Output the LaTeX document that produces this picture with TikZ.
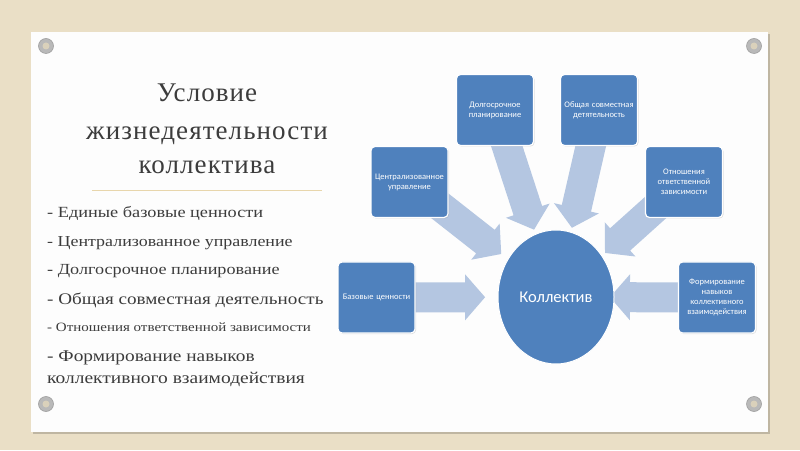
\documentclass[tikz,border=0pt]{standalone}
\usepackage{fontspec}
\setmainfont{Liberation Serif}
\newfontfamily\titlefont[LetterSpace=4]{Liberation Serif}
\newfontfamily\itemfont[FakeStretch=1.18]{Liberation Serif}
\newfontfamily\boxfont{Carlito}
\usetikzlibrary{shapes.geometric,calc,shadows}

\definecolor{canvas}{RGB}{234,223,198}
\definecolor{slidebg}{RGB}{253,253,253}
\definecolor{boxblue}{RGB}{79,129,189}
\definecolor{arrowblue}{RGB}{180,198,225}
\definecolor{rulegold}{RGB}{232,214,172}
\definecolor{textgray}{RGB}{60,60,60}

\pgfdeclarelayer{back}
\pgfdeclarelayer{arrows}
\pgfsetlayers{back,arrows,main}

\tikzset{
  boxnode/.style={rectangle, rounded corners=4pt, fill=boxblue, draw=white,
    line width=1.2pt, minimum width=77pt, minimum height=71pt, text width=72pt,
    inner sep=1pt, align=center, text=white,
    font=\boxfont\fontsize{8.5}{10}\selectfont,
    drop shadow={opacity=0.25, shadow xshift=1pt, shadow yshift=-1pt}},
  centernode/.style={ellipse, fill=boxblue, draw=white, line width=1pt,
    minimum width=116pt, minimum height=134pt, inner sep=0pt, text=white,
    font=\boxfont\fontsize{16.5}{20}\selectfont},
  titleline/.style={anchor=base, text=textgray, inner sep=0pt,
    font=\titlefont\fontsize{27}{30}\selectfont},
  item/.style={anchor=base west, text=textgray, inner sep=0pt},
}

% block arrow from #1 to the tip #2
\newcommand{\blockarrow}[2]{%
  \fill[arrowblue] let \p1=($(#2)-(#1)$), \n1={atan2(\y1,\x1)}, \n2={veclen(\x1,\y1)} in
    ($(#1)+({\n1+90}:15)$) -- ($(#1)+({\n1}:{\n2-20})+({\n1+90}:15)$)
    -- ($(#1)+({\n1}:{\n2-20})+({\n1+90}:23)$) -- (#2)
    -- ($(#1)+({\n1}:{\n2-20})+({\n1-90}:23)$) -- ($(#1)+({\n1}:{\n2-20})+({\n1-90}:15)$)
    -- ($(#1)+({\n1-90}:15)$) -- cycle;}

\begin{document}
\begin{tikzpicture}[x=1pt,y=1pt]
  % Canvas and slide card
  \begin{pgfonlayer}{back}
    \fill[canvas] (0,0) rectangle (800,450);
    \fill[black,opacity=0.18] (33,16) rectangle (770,416);
    \fill[slidebg] (31,18) rectangle (768,418);
    % Grommets
    \foreach \gx/\gy in {46/404, 754/404, 46/46, 754/46} {
      \fill[gray!55, draw=gray!75, line width=0.6pt] (\gx,\gy) circle (7.5);
      \fill[canvas!85!gray] (\gx,\gy) circle (3.5);
    }
  \end{pgfonlayer}

  % Title
  \node[titleline] (t1) at (207,348) {Условие};
  \node[titleline] (t2) at (207,310) {жизнедеятельности};
  \node[titleline] (t3) at (207,276) {коллектива};
  \draw[rulegold, line width=1pt] (92,259) -- (322,259);

  % List of conditions
  \node[item, font=\itemfont\fontsize{15.5}{18}\selectfont] (i1) at (47,232) {- Единые базовые ценности};
  \node[item, font=\itemfont\fontsize{15.2}{18}\selectfont] (i2) at (47,203) {- Централизованное управление};
  \node[item, font=\itemfont\fontsize{15.4}{18}\selectfont] (i3) at (47,175) {- Долгосрочное планирование};
  \node[item, font=\itemfont\fontsize{16.2}{20}\selectfont] (i4) at (47,145) {- Общая совместная деятельность};
  \node[item, font=\itemfont\fontsize{12.7}{15}\selectfont] (i5) at (47,119) {- Отношения ответственной зависимости};
  \node[item, font=\itemfont\fontsize{16.4}{20}\selectfont] (i6) at (47,89) {- Формирование навыков};
  \node[item, font=\itemfont\fontsize{16.5}{20}\selectfont] (i7) at (47,67) {коллективного взаимодействия};

  % Diagram
  \node[centernode] (kol) at (556,153) {Коллектив};
  \node[boxnode] (bc) at (376.5,152.5) {Базовые ценности};
  \node[boxnode] (cu) at (409.5,268) {Централизованное управление};
  \node[boxnode] (dp) at (495,340) {Долгосрочное планирование};
  \node[boxnode] (os) at (599,340) {Общая совместная детятельность};
  \node[boxnode] (ot) at (684,268) {Отношения ответственной зависимости};
  \node[boxnode] (fn) at (717,152.5) {Формирование навыков коллективного взаимодействия};

  % Arrows towards the centre
  \coordinate (bc-tip) at ($(bc)!0.605!(kol)$);
  \coordinate (cu-tip) at ($(cu)!0.626!(kol)$);
  \coordinate (dp-tip) at ($(dp)!0.64!(kol)$);
  \coordinate (os-tip) at ($(os)!0.63!(kol)$);
  \coordinate (ot-tip) at ($(ot)!0.617!(kol)$);
  \coordinate (fn-tip) at ($(fn)!0.665!(kol)$);
  \begin{pgfonlayer}{arrows}
    \foreach \b in {bc, cu, dp, os, ot, fn}
      \blockarrow{\b}{\b-tip};
  \end{pgfonlayer}
\end{tikzpicture}
\end{document}
